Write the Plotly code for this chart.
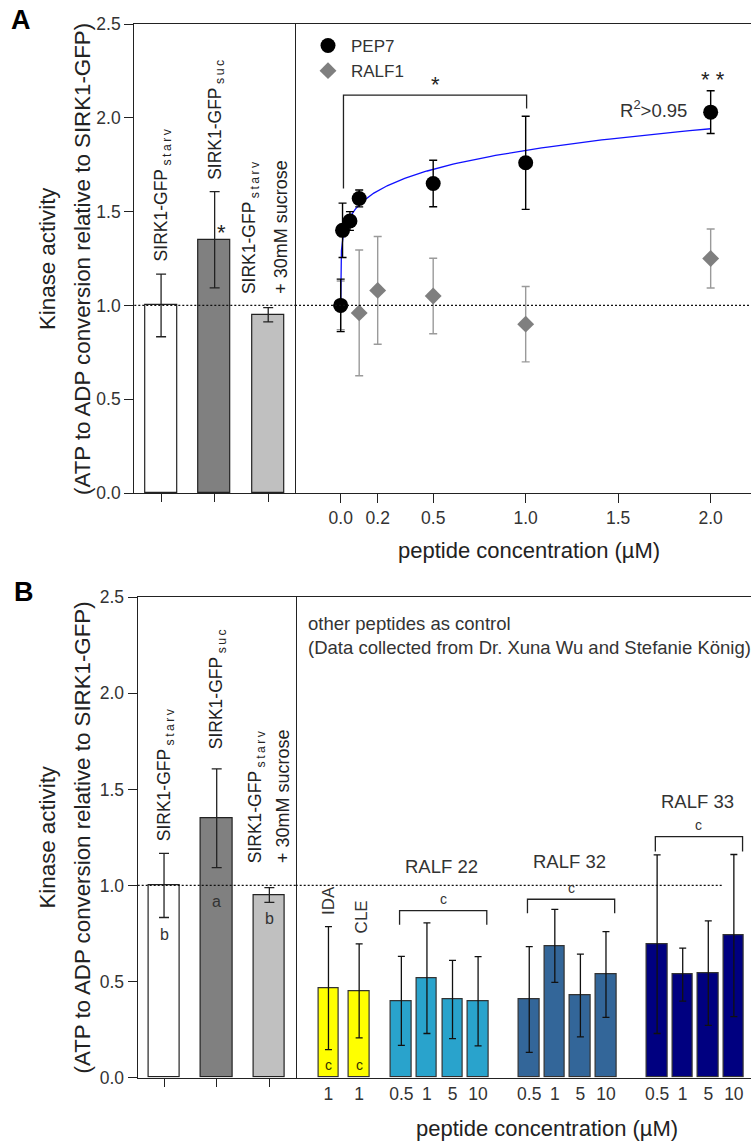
import numpy as np
import plotly.graph_objects as go

FONT = "Liberation Sans, Arial, Helvetica, sans-serif"
W, H = 751, 1144
TS = "\u2009"  # thin space used for the letter-spaced subscripts

# ---------------- data ----------------
ctrl_names = ["SIRK1-GFP", "SIRK1-GFP", "SIRK1-GFP"]
ctrl_subs = ["starv", "suc", "starv"]
ctrl_label_line2 = "+ 30mM sucrose"
ctrl_values = [1.00, 1.35, 0.95]
ctrl_err = [0.167, 0.257, 0.038]
ctrl_letters = ["b", "a", "b"]

pep7_conc = [0.0, 0.01, 0.05, 0.1, 0.5, 1.0, 2.0]
pep7_values = [1.00, 1.40, 1.45, 1.57, 1.65, 1.76, 2.03]
pep7_err = [0.14, 0.145, 0.05, 0.045, 0.124, 0.248, 0.114]
ralf1_conc = [0.0, 0.1, 0.2, 0.5, 1.0, 2.0]
ralf1_values = [1.00, 0.96, 1.08, 1.05, 0.90, 1.25]
ralf1_err = [0.13, 0.335, 0.287, 0.201, 0.201, 0.157]
conc_ticks = [0.0, 0.2, 0.5, 1.0, 1.5, 2.0]
conc_ticktext = ["0.0", "0.2", "0.5", "1.0", "1.5", "2.0"]

single_names = ["IDA", "CLE"]
single_conc = ["1", "1"]
single_values = [0.465, 0.451]
single_err = [0.32, 0.245]
group_names = ["RALF 22", "RALF 32", "RALF 33"]
group_conc = ["0.5", "1", "5", "10"]
ralf22_values = [0.399, 0.517, 0.406, 0.397]
ralf22_err = [0.232, 0.288, 0.204, 0.232]
ralf32_values = [0.406, 0.685, 0.427, 0.536]
ralf32_err = [0.275, 0.190, 0.215, 0.223]
ralf33_values = [0.694, 0.536, 0.543, 0.739]
ralf33_err = [0.465, 0.138, 0.272, 0.422]
bracket_top = [0.869, 0.928, 1.254]
bracket_leg = [0.795, 0.855, 1.176]
group_label_y = [1.10, 1.127, 1.436]

# ---------------- styles ----------------
ctrl_colors = ["#FFFFFF", "#808080", "#C0C0C0"]
single_color = "#FFFF00"
group_colors = ["#29A3CC", "#336699", "#000080"]
LINE = "#222222"
TXT = "#222222"


def px_x(p):
    return p / W


def px_y(p):
    return 1 - p / H


def spaced(s):
    return TS.join(s)


A_y = [px_y(493), px_y(24)]
A_xl = [px_x(134.3), px_x(295)]
A_xr = [px_x(295), 1.0]
B_y = [px_y(1077.5), px_y(597.3)]
B_xl = [px_x(137.7), px_x(295.7)]
B_xr = [px_x(295.7), 1.0]

fig = go.Figure()

# control bars (A: x/y, B: x3/y3)
for xa, ya in (("x", "y"), ("x3", "y3")):
    fig.add_trace(go.Bar(
        x=[0, 1, 2], y=ctrl_values, width=0.6,
        marker=dict(color=ctrl_colors, line=dict(color=LINE, width=1.2)),
        error_y=dict(type="data", array=ctrl_err, color=LINE, thickness=1.3, width=5),
        xaxis=xa, yaxis=ya, showlegend=False, hoverinfo="skip"))

# fitted power curve y = y0 + a*x^b (least squares on the PEP7 data)
xc = np.array(pep7_conc)
yc = np.array(pep7_values) - pep7_values[0]
best = None
for b in np.linspace(0.05, 0.6, 1101):
    f = xc ** b
    a = (f @ yc) / (f @ f)
    sse = float(((yc - a * f) ** 2).sum())
    if best is None or sse < best[0]:
        best = (sse, a, b)
_, fa, fb = best
x_fit = np.concatenate([[0.0], np.geomspace(1e-6, max(pep7_conc), 500)])
y_fit = pep7_values[0] + fa * x_fit ** fb

fig.add_trace(go.Scatter(
    x=ralf1_conc, y=ralf1_values, mode="markers", name="RALF1",
    marker=dict(symbol="diamond", size=13, color="#7F7F7F", line=dict(width=0)),
    error_y=dict(type="data", array=ralf1_err, color="#9A9A9A", thickness=1.4, width=4),
    xaxis="x2", yaxis="y2", legendrank=2, hoverinfo="skip"))
fig.add_trace(go.Scatter(
    x=x_fit, y=y_fit, mode="lines", line=dict(color="#1010FF", width=1.3),
    xaxis="x2", yaxis="y2", showlegend=False, hoverinfo="skip"))
fig.add_trace(go.Scatter(
    x=pep7_conc, y=pep7_values, mode="markers", name="PEP7",
    marker=dict(symbol="circle", size=15, color="#000000"),
    error_y=dict(type="data", array=pep7_err, color="#000000", thickness=1.4, width=4),
    xaxis="x2", yaxis="y2", legendrank=1, hoverinfo="skip"))

# other peptides
positions = [0.0, 1.2]
for g in range(len(group_names)):
    positions += [2.85 + 5 * g + k for k in range(len(group_conc))]
b_values = single_values + ralf22_values + ralf32_values + ralf33_values
b_err = single_err + ralf22_err + ralf32_err + ralf33_err
b_colors = [single_color] * len(single_values) + sum(([c] * len(group_conc) for c in group_colors), [])
b_ticktext = single_conc + group_conc * len(group_names)
fig.add_trace(go.Bar(
    x=positions, y=b_values, width=0.8,
    marker=dict(color=b_colors, line=dict(color="#333333", width=1.2)),
    error_y=dict(type="data", array=b_err, color="#111111", thickness=1.3, width=3.5),
    xaxis="x4", yaxis="y4", showlegend=False, hoverinfo="skip"))

common = dict(showline=True, linecolor=LINE, linewidth=1.2, showgrid=False, zeroline=False,
              tickcolor=LINE, tickwidth=1.2, automargin=False,
              tickfont=dict(family=FONT, size=17.5, color="#333333"))
hidden_y = dict(range=[0, 2.5], showticklabels=False, ticks="", showline=False, showgrid=False,
                zeroline=False, automargin=False)
yticks = [0, 0.5, 1.0, 1.5, 2.0, 2.5]
fig.update_layout(
    xaxis=dict(domain=A_xl, range=[-0.5, 2.5], anchor="y", tickvals=[0, 1, 2], ticktext=["", "", ""],
               ticks="outside", ticklen=8, mirror=True, **common),
    yaxis=dict(domain=A_y, range=[0, 2.5], anchor="x", tickvals=yticks, tickformat=".1f",
               ticks="outside", ticklen=9, mirror=True, **common),
    xaxis2=dict(domain=A_xr, range=[-0.247, 2.218], anchor="y2", tickvals=conc_ticks, ticktext=conc_ticktext,
                ticks="outside", ticklen=9, mirror=True, **common),
    yaxis2=dict(domain=A_y, anchor="x2", **hidden_y),
    xaxis3=dict(domain=B_xl, range=[-0.5, 2.5], anchor="y3", tickvals=[0, 1, 2], ticktext=["", "", ""],
                ticks="outside", ticklen=8, mirror=True, **common),
    yaxis3=dict(domain=B_y, range=[0, 2.5], anchor="x3", tickvals=yticks, tickformat=".1f",
                ticks="outside", ticklen=9, mirror=True, **common),
    xaxis4=dict(domain=B_xr, range=[-1.281, 16.52], anchor="y4", tickvals=positions, ticktext=b_ticktext,
                ticks="", mirror=True, **common),
    yaxis4=dict(domain=B_y, anchor="x4", **hidden_y),
)

shapes = []
dot = dict(color="#111111", width=1.3, dash="2px,2px")
shapes.append(dict(type="line", xref="x domain", yref="y", x0=0, x1=1, y0=1, y1=1, line=dot))
shapes.append(dict(type="line", xref="x2 domain", yref="y2", x0=0, x1=1, y0=1, y1=1, line=dot))
shapes.append(dict(type="line", xref="x3 domain", yref="y3", x0=0, x1=1, y0=1, y1=1, line=dot))
shapes.append(dict(type="line", xref="x4", yref="y4", x0=-1.281, x1=positions[-1] - 0.44, y0=1, y1=1, line=dot))
xl, xr = pep7_conc[0] + 0.015, pep7_conc[5] + 0.005
shapes.append(dict(type="path", xref="x2", yref="y2",
                   path=f"M {xl},1.623 L {xl},2.121 L {xr},2.121 L {xr},2.049",
                   line=dict(color=LINE, width=1.3)))
for g in range(len(group_names)):
    grp = positions[2 + 4 * g: 6 + 4 * g]
    l, r = grp[0] - 0.07, grp[-1] + 0.34
    shapes.append(dict(type="path", xref="x4", yref="y4",
                       path=f"M {l},{bracket_leg[g]} L {l},{bracket_top[g]} L {r},{bracket_top[g]} L {r},{bracket_leg[g]}",
                       line=dict(color=LINE, width=1.3)))
fig.update_layout(shapes=shapes)

ann = []


def text(x, y, s, xref="paper", yref="paper", size=17, angle=0, xanchor="center", yanchor="middle",
         bold=False, align="center", color=TXT):
    ann.append(dict(x=x, y=y, xref=xref, yref=yref, text=(f"<b>{s}</b>" if bold else s),
                    showarrow=False, textangle=angle, xanchor=xanchor, yanchor=yanchor, align=align,
                    font=dict(family=FONT, size=size, color=color)))


text(px_x(9), px_y(20), "A", size=27, bold=True, xanchor="left", color="#000")
text(px_x(12), px_y(592), "B", size=27, bold=True, xanchor="left", color="#000")

for cy in (259, 837.5):
    text(px_x(47), px_y(cy), "Kinase activity", size=22.3, angle=-90)
    text(px_x(82), px_y(cy), "(ATP to ADP conversion relative to SIRK1-GFP)", size=22.3, angle=-90)

text(px_x(529), px_y(550), "peptide concentration (µM)", size=22)
text(px_x(547), px_y(1128), "peptide concentration (µM)", size=22)

labels = [f"{n}{TS}<sub>{spaced(s)}</sub>" for n, s in zip(ctrl_names, ctrl_subs)]
for xa, ya, bottoms, l1x, l2x in (("x", "y", [1.225, 1.66, 1.05], 1.67, 2.235),
                                  ("x3", "y3", [1.22, 1.70, 1.106], 1.76, 2.26)):
    text(0.03, bottoms[0], labels[0], xref=xa, yref=ya, size=17.5, angle=-90, yanchor="bottom")
    text(1.03, bottoms[1], labels[1], xref=xa, yref=ya, size=17.5, angle=-90, yanchor="bottom")
    text(l1x, bottoms[2], labels[2], xref=xa, yref=ya, size=17.5, angle=-90, yanchor="bottom")
    text(l2x, bottoms[2], ctrl_label_line2, xref=xa, yref=ya, size=18, angle=-90, yanchor="bottom")

text(1.13, 1.39, "*", xref="x", yref="y", size=22)
for i, (lt, ly) in enumerate(zip(ctrl_letters, [0.742, 0.918, 0.83])):
    text(i, ly, lt, xref="x3", yref="y3", size=16, color="#333")

text(0.51, 2.176, "*", xref="x2", yref="y2", size=22)
text(2.01, 2.203, "* *", xref="x2", yref="y2", size=22)
text(1.69, 2.048, "R<sup>2</sup>>0.95", xref="x2", yref="y2", size=18.5, color="#333")

text(px_x(306), px_y(611), "other peptides as control<br>(Data collected from Dr. Xuna Wu and Stefanie König)",
     size=18.5, xanchor="left", yanchor="top", align="left", color="#333")
text(positions[0], 0.836, single_names[0], xref="x4", yref="y4", size=17, angle=-90, yanchor="bottom", color="#333")
text(1.3, 0.741, single_names[1], xref="x4", yref="y4", size=17, angle=-90, yanchor="bottom", color="#333")
for i in range(2):
    text(positions[i], 0.066, "c", xref="x4", yref="y4", size=14, color="#333300")
for g in range(len(group_names)):
    grp = positions[2 + 4 * g: 6 + 4 * g]
    mid = (grp[0] - 0.07 + grp[-1] + 0.34) / 2
    text(mid, bracket_top[g] + 0.058, "c", xref="x4", yref="y4", size=14, color="#333")
    text(mid - 0.05, group_label_y[g], group_names[g], xref="x4", yref="y4", size=18.5, color="#333")

fig.update_layout(annotations=ann)

fig.update_layout(
    width=W, height=H, margin=dict(l=0, r=0, t=0, b=0, pad=0, autoexpand=False),
    paper_bgcolor="white", plot_bgcolor="white",
    bargap=0, showlegend=True,
    legend=dict(x=px_x(305), y=px_y(28), xanchor="left", yanchor="top", bgcolor="rgba(0,0,0,0)",
                font=dict(family=FONT, size=17, color="#333"), tracegroupgap=0, itemsizing="trace",
                itemwidth=36),
    font=dict(family=FONT),
)

fig.write_html("out.html", config={"displayModeBar": False},
               post_script="document.body.style.margin='0';document.body.style.overflow='hidden';")
